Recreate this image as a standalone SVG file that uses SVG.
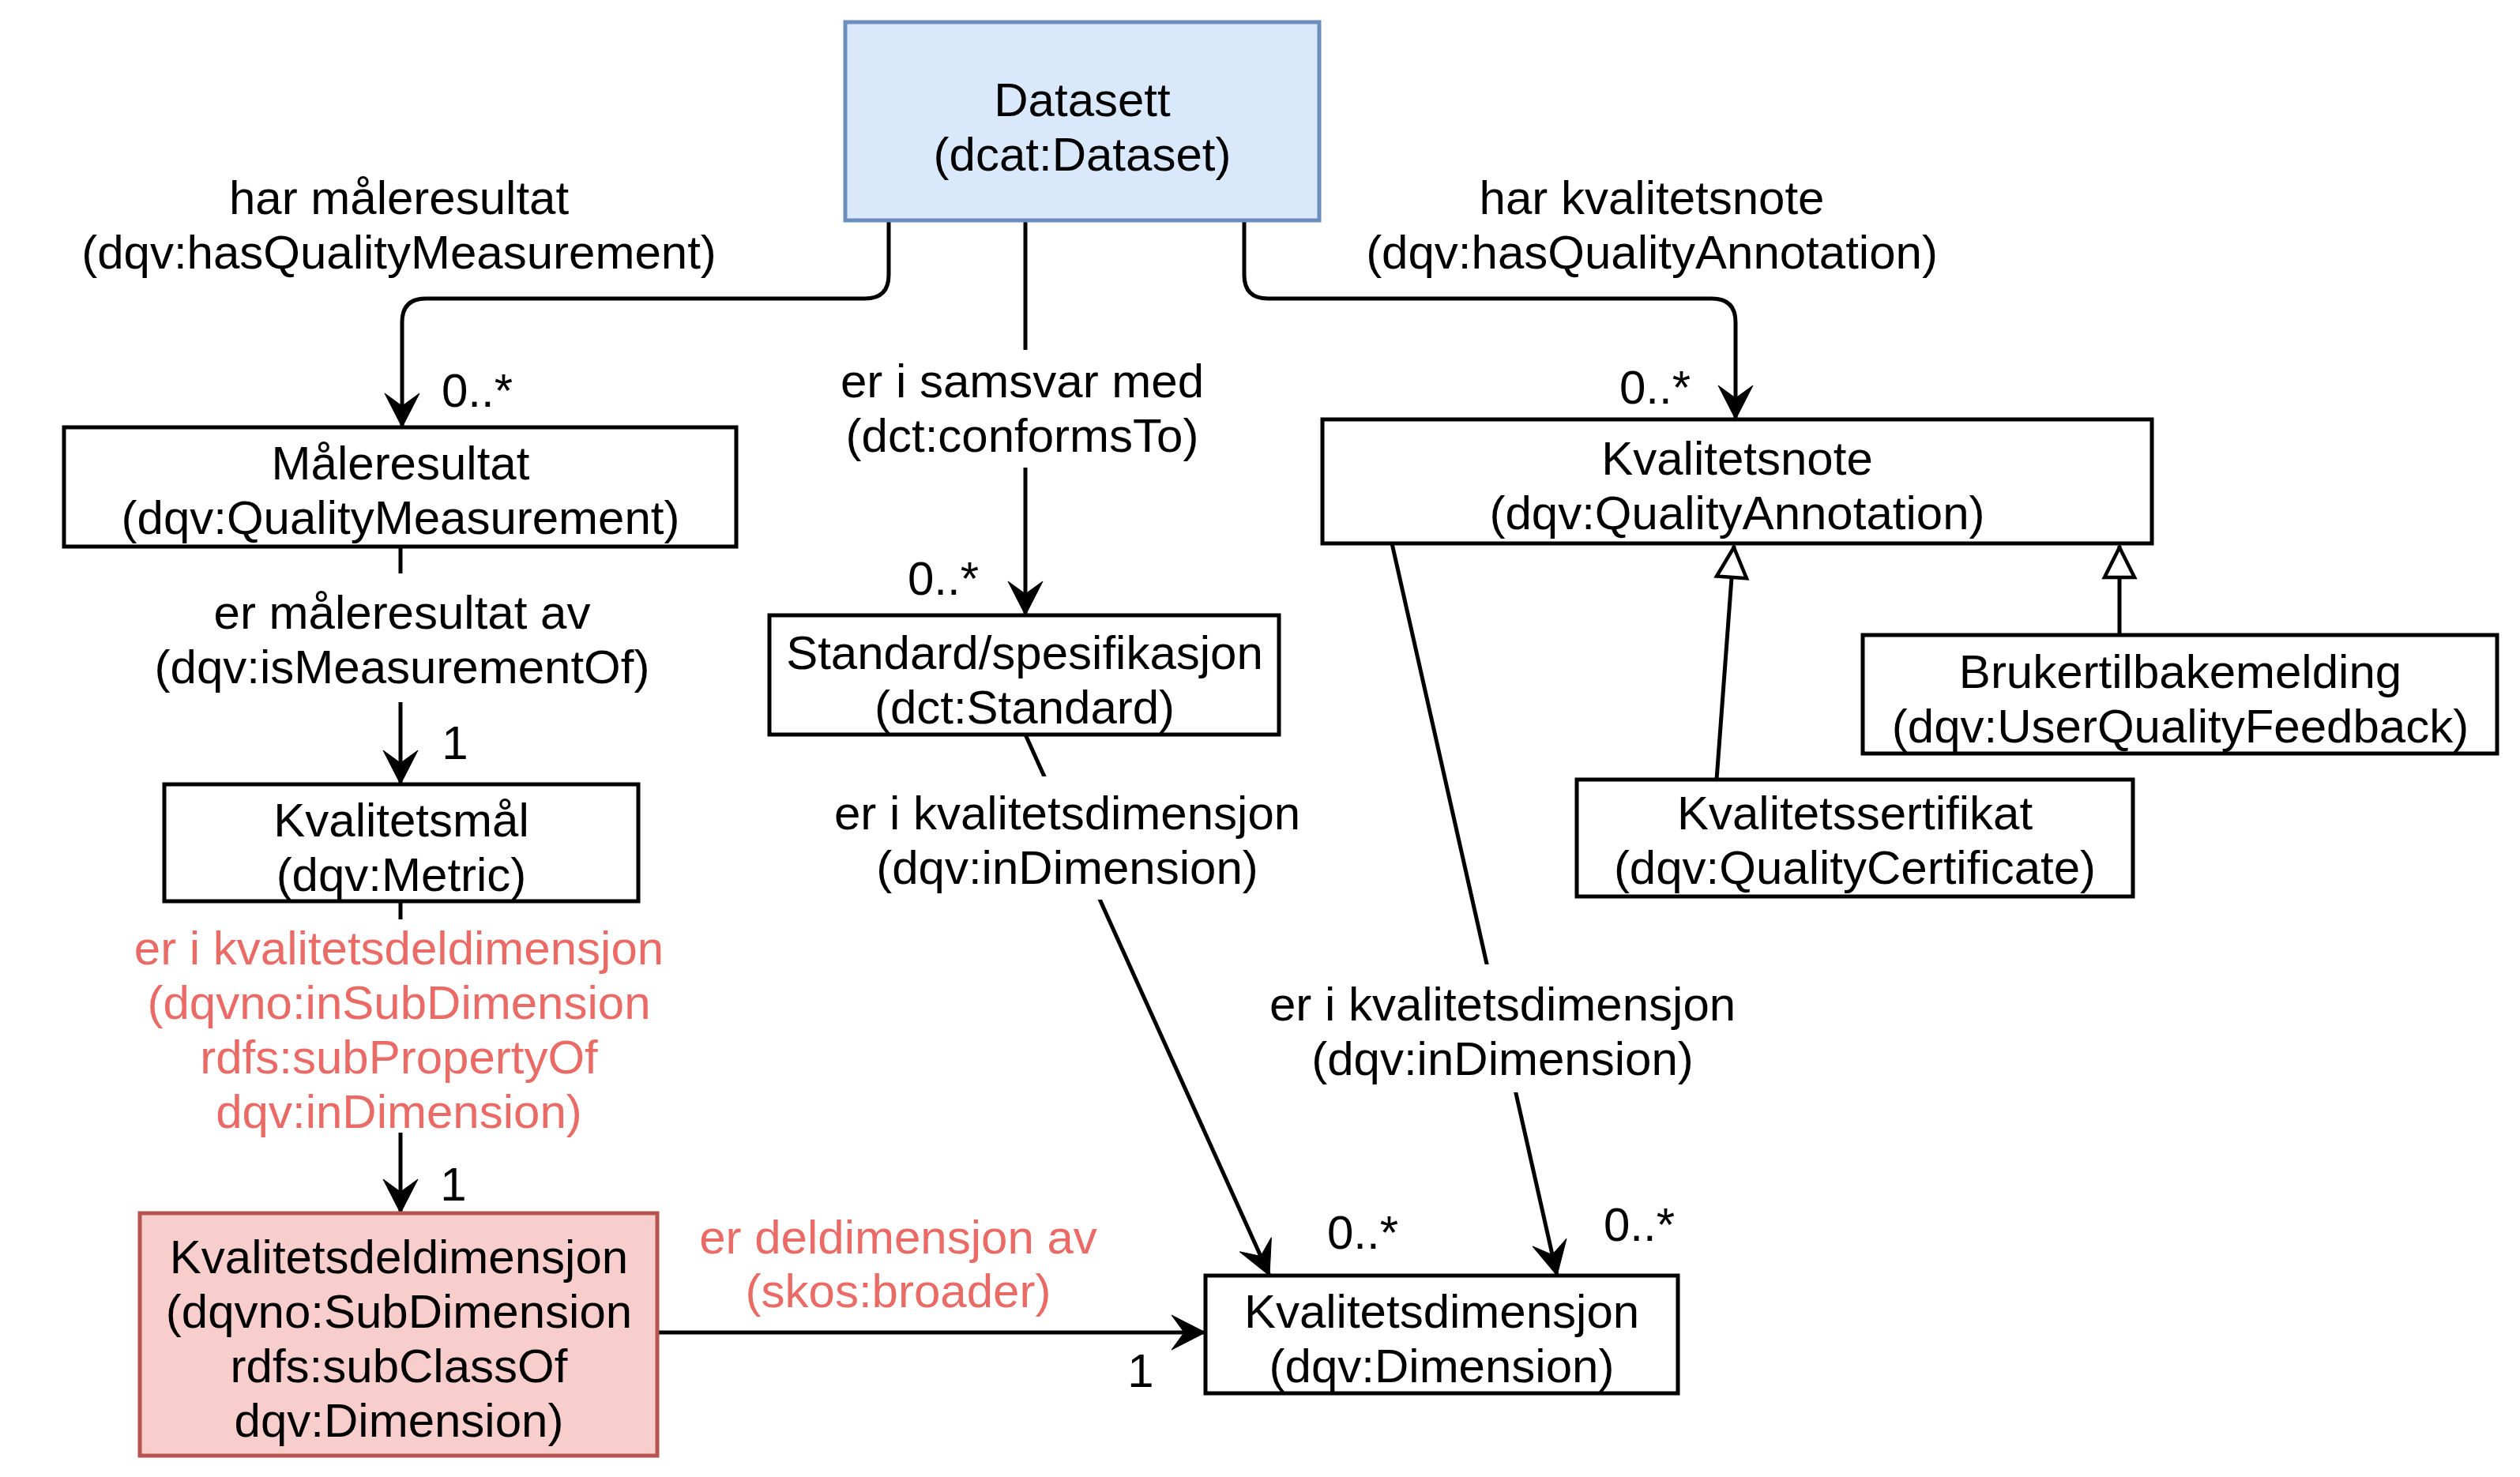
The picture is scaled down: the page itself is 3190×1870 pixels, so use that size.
<svg xmlns="http://www.w3.org/2000/svg" width="3190" height="1870" viewBox="0 0 3190 1870">
<defs>
<style>
text{font-family:"Liberation Sans",Arial,Helvetica,sans-serif;font-size:60px;fill:#000;text-anchor:middle}
.red{fill:#EA6B66}
.box{fill:#fff;stroke:#000;stroke-width:5}
.edge{fill:none;stroke:#000;stroke-width:5}
.bg{fill:#fff;stroke:none}
</style>
<marker id="arr" markerUnits="userSpaceOnUse" markerWidth="48" markerHeight="50" viewBox="0 -25 48 50" refX="44" refY="0" orient="auto">
<path d="M1,-22 L44,0 L1,22 L17,0 Z" fill="#000" stroke="#000" stroke-width="1"/>
</marker>
<marker id="gen" markerUnits="userSpaceOnUse" markerWidth="48" markerHeight="50" viewBox="-3 -25 48 50" refX="40" refY="0" orient="auto">
<path d="M0,-19 L38,0 L0,19 Z" fill="#fff" stroke="#000" stroke-width="4.5"/>
</marker>
</defs>
<rect width="3190" height="1870" fill="#fff"/>
<g id="connectors">
<path class="edge" d="M1125,279 V348 Q1125,378 1095,378 H539 Q509,378 509,408 V541" marker-end="url(#arr)"/>
<path class="edge" d="M1298,279 V779" marker-end="url(#arr)"/>
<path class="edge" d="M1575,279 V348 Q1575,378 1605,378 H2167 Q2197,378 2197,408 V531" marker-end="url(#arr)"/>
<path class="edge" d="M507,692 V993" marker-end="url(#arr)"/>
<path class="edge" d="M507,1141 V1536" marker-end="url(#arr)"/>
<path class="edge" d="M832,1687 H1526" marker-end="url(#arr)"/>
<path class="edge" d="M1298,930 L1607,1615" marker-end="url(#arr)"/>
<path class="edge" d="M1762,688 L1971,1615" marker-end="url(#arr)"/>
<path class="edge" d="M2173,987 L2195,691" marker-end="url(#gen)"/>
<path class="edge" d="M2683,804 V691" marker-end="url(#gen)"/>
</g>
<g id="edge-labels">
<text x="505" y="271">har måleresultat</text>
<text x="505" y="340">(dqv:hasQualityMeasurement)</text>
<text x="604" y="515">0..*</text>
<rect class="bg" x="1060" y="443" width="470" height="149"/>
<text x="1294" y="503">er i samsvar med</text>
<text x="1294" y="572">(dct:conformsTo)</text>
<text x="1194" y="753">0..*</text>
<text x="2091" y="271">har kvalitetsnote</text>
<text x="2091" y="340">(dqv:hasQualityAnnotation)</text>
<text x="2095" y="511">0..*</text>
<rect class="bg" x="195" y="726" width="630" height="163"/>
<text x="509" y="796">er måleresultat av</text>
<text x="509" y="865">(dqv:isMeasurementOf)</text>
<text x="576" y="961">1</text>
<rect class="bg" x="168" y="1164" width="672" height="270"/>
<text class="red" x="505" y="1221">er i kvalitetsdeldimensjon</text>
<text class="red" x="505" y="1290">(dqvno:inSubDimension</text>
<text class="red" x="505" y="1359">rdfs:subPropertyOf</text>
<text class="red" x="505" y="1428">dqv:inDimension)</text>
<text x="574" y="1520">1</text>
<text class="red" x="1137" y="1587">er deldimensjon av</text>
<text class="red" x="1137" y="1655">(skos:broader)</text>
<text x="1444" y="1756">1</text>
<rect class="bg" x="1057" y="983" width="590" height="156"/>
<text x="1351" y="1050">er i kvalitetsdimensjon</text>
<text x="1351" y="1119">(dqv:inDimension)</text>
<text x="1725" y="1581">0..*</text>
<rect class="bg" x="1600" y="1221" width="605" height="162"/>
<text x="1902" y="1292">er i kvalitetsdimensjon</text>
<text x="1902" y="1361">(dqv:inDimension)</text>
<text x="2075" y="1571">0..*</text>
</g>
<g id="datasett">
<rect x="1070" y="28" width="600" height="251" fill="#dae8fc" stroke="#6c8ebf" stroke-width="5"/>
<text x="1370" y="147">Datasett</text>
<text x="1370" y="216">(dcat:Dataset)</text>
</g>
<g id="maleresultat">
<rect class="box" x="81" y="541" width="851" height="151"/>
<text x="507" y="607">Måleresultat</text>
<text x="507" y="676">(dqv:QualityMeasurement)</text>
</g>
<g id="kvalitetsmal">
<rect class="box" x="208" y="993" width="600" height="148"/>
<text x="508" y="1059">Kvalitetsmål</text>
<text x="508" y="1128">(dqv:Metric)</text>
</g>
<g id="kvalitetsdeldimensjon">
<rect x="177" y="1536" width="655" height="307" fill="#f8cecc" stroke="#b85450" stroke-width="5"/>
<text x="505" y="1612">Kvalitetsdeldimensjon</text>
<text x="505" y="1681">(dqvno:SubDimension</text>
<text x="505" y="1750">rdfs:subClassOf</text>
<text x="505" y="1819">dqv:Dimension)</text>
</g>
<g id="standard">
<rect class="box" x="974" y="779" width="645" height="151"/>
<text x="1297" y="847">Standard/spesifikasjon</text>
<text x="1297" y="916">(dct:Standard)</text>
</g>
<g id="kvalitetsnote">
<rect class="box" x="1674" y="531" width="1050" height="157"/>
<text x="2199" y="601">Kvalitetsnote</text>
<text x="2199" y="670">(dqv:QualityAnnotation)</text>
</g>
<g id="brukertilbakemelding">
<rect class="box" x="2358" y="804" width="803" height="150"/>
<text x="2760" y="871">Brukertilbakemelding</text>
<text x="2760" y="940">(dqv:UserQualityFeedback)</text>
</g>
<g id="kvalitetssertifikat">
<rect class="box" x="1996" y="987" width="704" height="148"/>
<text x="2348" y="1050">Kvalitetssertifikat</text>
<text x="2348" y="1119">(dqv:QualityCertificate)</text>
</g>
<g id="kvalitetsdimensjon">
<rect class="box" x="1526" y="1615" width="598" height="149"/>
<text x="1825" y="1681">Kvalitetsdimensjon</text>
<text x="1825" y="1750">(dqv:Dimension)</text>
</g>
</svg>
